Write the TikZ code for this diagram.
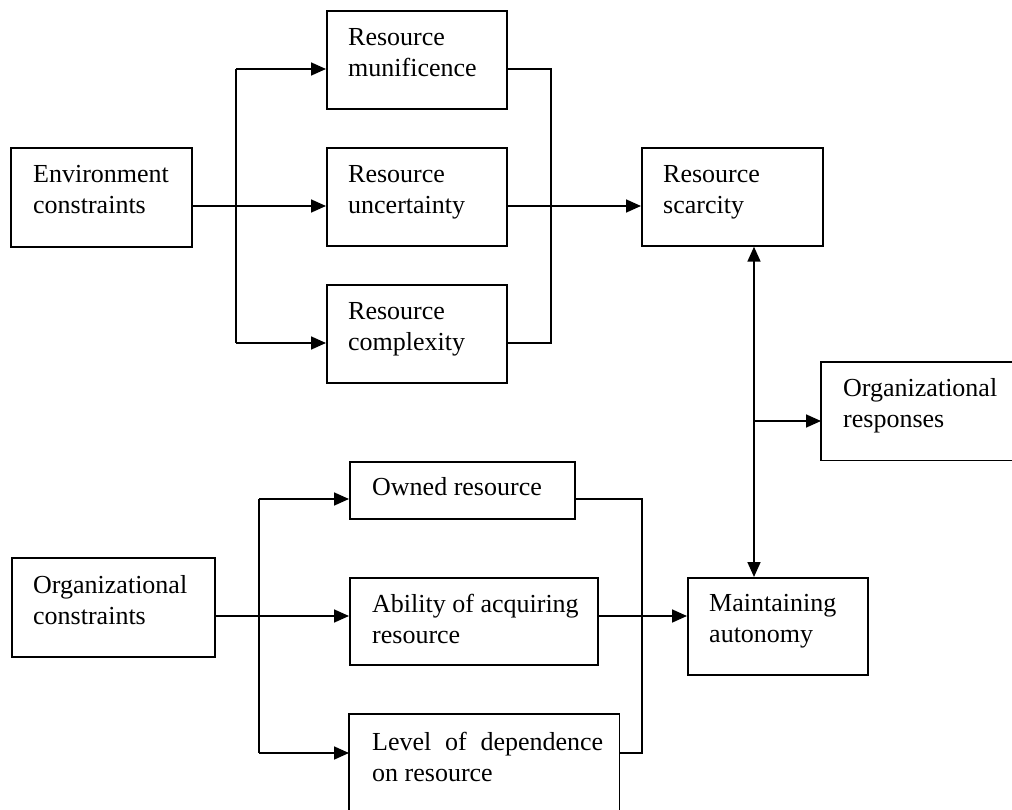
\documentclass[tikz,border=0pt]{standalone}
\usepackage{fontspec}
\setmainfont{Liberation Serif}
\usetikzlibrary{arrows.meta,calc}
\tikzset{
  box/.style={draw, line width=1.7pt, inner sep=0pt, anchor=north west},
  openbox/.style={inner sep=0pt, anchor=north west},
  txt/.style={inner sep=0pt, anchor=north west, align=left, font=\fontsize{26}{31}\selectfont},
  conn/.style={line width=1.7pt},
  arr/.style={conn, -{Triangle[length=15pt,width=13pt]}},
  arrb/.style={conn, {Triangle[length=15pt,width=13pt]}-{Triangle[length=15pt,width=13pt]}}
}
\begin{document}
\begin{tikzpicture}[x=1pt,y=-1pt]
\useasboundingbox (0,0) rectangle (1012,810);
\fill[white] (0,0) rectangle (1012,810);
\clip (0,0) rectangle (1012,810);
% boxes
\node[box, minimum width=181pt, minimum height=99pt] (env) at (10,147) {};
\node[box, minimum width=180pt, minimum height=98pt] (mun) at (326,10) {};
\node[box, minimum width=180pt, minimum height=98pt] (unc) at (326,147) {};
\node[box, minimum width=180pt, minimum height=98pt] (cpx) at (326,284) {};
\node[box, minimum width=181pt, minimum height=98pt] (sca) at (641,147) {};
\node[openbox, minimum width=200pt, minimum height=98pt] (resp) at (821,362) {};
\draw[conn] (resp.north east) -- (resp.north west) -- (resp.south west) -- (resp.south east);
\node[box, minimum width=203pt, minimum height=99pt] (orgc) at (11,557) {};
\node[box, minimum width=225pt, minimum height=57pt] (own) at (349,461) {};
\node[box, minimum width=248pt, minimum height=87pt] (abl) at (349,577) {};
\node[openbox, minimum width=270pt, minimum height=110pt] (lvl) at (349,714) {};
\draw[conn] (lvl.south west) -- (lvl.north west) -- (lvl.north east) -- (lvl.south east);
\node[box, minimum width=180pt, minimum height=97pt] (mnt) at (687,577) {};
% texts
\node[txt] (envt) at ($(env.north west)+(23,18)$) {Environment\\constraints};
\node[txt] (munt) at ($(mun.north west)+(22,18)$) {Resource\\munificence};
\node[txt] (unct) at ($(unc.north west)+(22,18)$) {Resource\\uncertainty};
\node[txt] (cpxt) at ($(cpx.north west)+(22,18)$) {Resource\\complexity};
\node[txt] (scat) at ($(sca.north west)+(22,18)$) {Resource\\scarcity};
\node[txt] (respt) at ($(resp.north west)+(22,16)$) {Organizational\\responses};
\node[txt] (orgct) at ($(orgc.north west)+(22,18)$) {Organizational\\constraints};
\node[txt] (ownt) at ($(own.north west)+(23,16)$) {Owned resource};
\node[txt] (ablt) at ($(abl.north west)+(23,17)$) {Ability of acquiring\\resource};
\node[txt] (lvlt) at ($(lvl.north west)+(23,18)$) {\makebox[231pt][s]{Level of dependence}\\on resource};
\node[txt] (mntt) at ($(mnt.north west)+(22,17)$) {Maintaining\\autonomy};
% junction coordinates
\coordinate (ej) at (236,206);
\coordinate (ejt) at (236,69);
\coordinate (ejb) at (236,343);
\coordinate (mj) at (551,206);
\coordinate (mjt) at (551,69);
\coordinate (mjb) at (551,343);
\coordinate (vj) at (754,421);
\coordinate (bj) at (259,616);
\coordinate (bjt) at (259,499);
\coordinate (bjb) at (259,753);
\coordinate (rj) at (642,616);
\coordinate (rjt) at (642,499);
\coordinate (rjb) at (642,753);
% top group
\draw[conn] (ejt) -- (ejb);
\draw[arr] (ejt) -- (mun.west |- ejt);
\draw[arr] (ejb) -- (cpx.west |- ejb);
\draw[arr] (env.east |- ej) -- (unc.west |- ej);
\draw[conn] (mun.east |- mjt) -- (mjt) -- (mjb) -- (cpx.east |- mjb);
\draw[arr] (unc.east |- mj) -- (sca.west |- mj);
% middle
\draw[arrb] (sca.south -| vj) -- (mnt.north -| vj);
\draw[arr] (vj) -- (resp.west |- vj);
% bottom group
\draw[conn] (bjt) -- (bjb);
\draw[arr] (bjt) -- (own.west |- bjt);
\draw[arr] (bjb) -- (lvl.west |- bjb);
\draw[arr] (orgc.east |- bj) -- (abl.west |- bj);
\draw[conn] (own.east |- rjt) -- (rjt) -- (rjb) -- (lvl.east |- rjb);
\draw[arr] (abl.east |- rj) -- (mnt.west |- rj);
\end{tikzpicture}
\end{document}
